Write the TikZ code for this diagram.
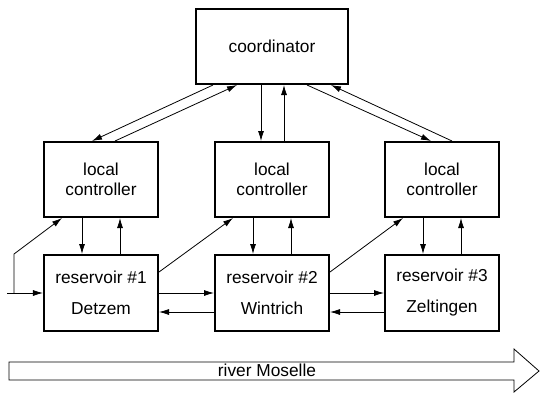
\documentclass[tikz,border=0pt]{standalone}
\usepackage{fontspec}
\setmainfont{Liberation Sans}
\usepackage{tikz}
\usetikzlibrary{arrows.meta,positioning,calc}

\tikzset{
  block/.style={draw=black, line width=2bp, minimum width=114bp, minimum height=75bp,
    inner sep=0pt, align=center},
  link/.style={line width=0.8bp, -{Latex[length=10bp,width=6bp]}},
  plain/.style={line width=0.8bp}
}

\begin{document}
\begin{tikzpicture}[x=1bp,y=-1bp]
    \fontsize{17.3bp}{20bp}\selectfont
    \useasboundingbox (0,0) rectangle (540,392);
    % draw the coordinator
    \node[block, minimum width=152bp] (coord) at (272,46.5) {coordinator};
    % draw the local controllers
    \node[block] (lc1) at (101,179.5) {local\\controller};
    \node[block] (lc2) at (272,179.5) {local\\controller};
    \node[block] (lc3) at (442,179.5) {local\\controller};
    % draw the reservoirs
    \node[block, minimum height=76bp] (res1) at (101,293) {reservoir \#1\\[11bp]Detzem};
    \node[block, minimum height=76bp] (res2) at (272,293) {reservoir \#2\\[11bp]Wintrich};
    \node[block, minimum height=76bp] (res3) at (442,293) {reservoir \#3\\[11bp]Zeltingen};
    % coordinator <-> local controllers
    \draw[link] ($(coord.south)+(-59,0)$) -- ($(lc1.north)+(-9,0)$);
    \draw[link] ($(lc1.north)+(14,0)$) -- ($(coord.south)+(-35,0)$);
    \draw[link] ($(coord.south)+(-11,0)$) -- ($(lc2.north)+(-11,0)$);
    \draw[link] ($(lc2.north)+(12,0)$) -- ($(coord.south)+(12,0)$);
    \draw[link] ($(coord.south)+(35,0)$) -- ($(lc3.north)+(-11,0)$);
    \draw[link] ($(lc3.north)+(10,0)$) -- ($(coord.south)+(59,0)$);
    % local controllers <-> reservoirs
    \foreach \i in {1,2,3}
    {
        \draw[link] ($(lc\i.south)+(-19,0)$) -- ($(res\i.north)+(-19,0)$);
        \draw[link] ($(res\i.north)+(19,0)$) -- ($(lc\i.south)+(19,0)$);
    }
    % measurements to the next controller
    \draw[link] ($(res1.north east)+(0,18)$) -- ($(lc2.south west)+(19,0)$);
    \draw[link] ($(res2.north east)+(0,18)$) -- ($(lc3.south west)+(19,0)$);
    % inflow
    \coordinate (inflow) at (7,293);
    \coordinate (branch) at (14,293);
    \coordinate (bend) at (14,254);
    \draw[link] (inflow) -- (res1.west);
    \draw[link] (branch) -- (bend) -- ($(lc1.south west)+(19,0)$);
    % flows between the reservoirs
    \draw[link] (res1.east) -- (res2.west);
    \draw[link] (res2.east) -- (res3.west);
    \draw[link] ($(res2.west)+(0,19)$) -- ($(res1.east)+(0,19)$);
    \draw[link] ($(res3.west)+(0,19)$) -- ($(res2.east)+(0,19)$);
    % draw the river
    \draw[plain] (9,362) -- (514,362) -- (514,349) -- (539,371) -- (514,392)
        -- (514,380) -- (9,380) -- cycle;
    \node (river) at (267,370) {river Moselle};
\end{tikzpicture}
\end{document}
